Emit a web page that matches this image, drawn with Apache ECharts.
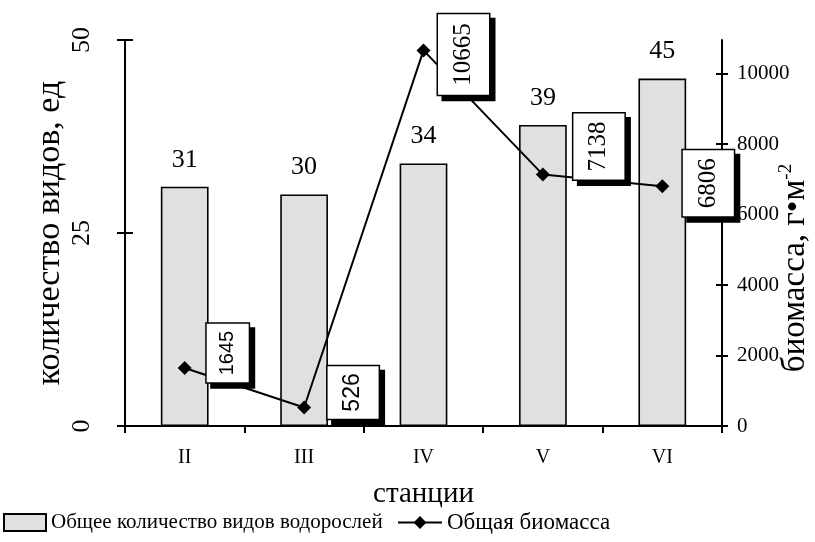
<!DOCTYPE html>
<html>
<head>
<meta charset="utf-8">
<script src="https://cdn.jsdelivr.net/npm/echarts@6/dist/echarts.min.js"></script>
<style>
  html, body { margin: 0; padding: 0; background: #fff; }
  #chart { width: 815px; height: 542px; }
</style>
</head>
<body>
<div id="chart"></div>
<script>
// Stations along the river
const stations = ['II', 'III', 'IV', 'V', 'VI'];
// Total number of algae species per station
const speciesCount = [31, 30, 34, 39, 45];
// Total biomass, g·m⁻²
const biomass = [1645, 526, 10665, 7138, 6806];
// Tick values of both value axes
const speciesTicks = [0, 25, 50];
const biomassTicks = [0, 2000, 4000, 6000, 8000, 10000];

const SERIF = '"Liberation Serif", "Times New Roman", serif';
const SANS = '"Liberation Sans", Arial, sans-serif';

// Callout placement for each biomass label (screen px: right, down), typeface, size and padding
const calloutShift = [[43, -15], [49, -15], [40, 4], [56, -28], [46, -3]];
const calloutFont = [SANS, SANS, SERIF, SERIF, SERIF];
const calloutSize = [20, 23, 25, 25, 25];
const calloutPad = [[11, 7], [14, 7], [13, 9], [13, 8], [13, 8]];

const chart = echarts.init(document.getElementById('chart'), null, { renderer: 'canvas' });

const speciesMax = 50;
const biomassMax = 10960;

function valueAxis(opts) {
  return Object.assign({
    type: 'value',
    splitLine: { show: false },
    axisLine: { show: true, lineStyle: { color: '#000', width: 2 } },
  }, opts);
}

const option = {
  backgroundColor: '#fff',
  animation: false,
  grid: { left: 125, right: 93, top: 40, bottom: 116, containLabel: false, outerBoundsMode: 'none' },
  xAxis: {
    type: 'category',
    data: stations,
    boundaryGap: true,
    axisLine: { lineStyle: { color: '#000', width: 2 } },
    axisTick: { show: true, length: 7, lineStyle: { color: '#000', width: 2 } },
    axisLabel: { color: '#000', fontFamily: SERIF, fontSize: 20, margin: 22 },
    name: 'станции',
    nameLocation: 'middle',
    nameGap: 54,
    nameMoveOverlap: false,
    nameTextStyle: { color: '#000', fontFamily: SERIF, fontSize: 29 },
  },
  yAxis: [
    valueAxis({
      position: 'left',
      min: 0, max: speciesMax, interval: 25,
      axisTick: { show: true, length: 8, lineStyle: { color: '#000', width: 2 } },
      axisLabel: { color: '#000', fontFamily: SERIF, fontSize: 26, rotate: 90, margin: 30,
                   customValues: speciesTicks },
      name: 'количество видов, ед',
      nameLocation: 'middle',
      nameRotate: 90,
      nameGap: 58,
      nameMoveOverlap: false,
      nameTextStyle: { color: '#000', fontFamily: SERIF, fontSize: 34 },
    }),
    valueAxis({
      position: 'right',
      min: 0, max: biomassMax,
      axisTick: { show: true, length: 6, lineStyle: { color: '#000', width: 2 },
                  customValues: biomassTicks },
      axisLabel: { color: '#000', fontFamily: SERIF, fontSize: 21, margin: 15,
                   customValues: biomassTicks, formatter: v => String(v) },
      name: '{t|биомасса, г•м}{s|-2}',
      nameLocation: 'middle',
      nameRotate: 90,
      nameGap: 55,
      nameMoveOverlap: false,
      nameTextStyle: {
        color: '#000',
        padding: [0, 70, 0, 0],
        rich: {
          t: { fontFamily: SERIF, fontSize: 33, color: '#000', lineHeight: 35, verticalAlign: 'bottom' },
          s: { fontFamily: SERIF, fontSize: 19, color: '#000', lineHeight: 35, verticalAlign: 'top' },
        },
      },
    }),
    // inner halves of the crossing tick marks
    valueAxis({
      position: 'left',
      min: 0, max: speciesMax, interval: 25,
      axisLine: { show: false },
      axisTick: { show: true, inside: true, length: 8, lineStyle: { color: '#000', width: 2 } },
      axisLabel: { show: false },
    }),
    valueAxis({
      position: 'right',
      min: 0, max: biomassMax,
      axisLine: { show: false },
      axisTick: { show: true, inside: true, length: 6, lineStyle: { color: '#000', width: 2 },
                  customValues: biomassTicks },
      axisLabel: { show: false },
    }),
  ],
  legend: [
    {
      left: 3,
      top: 512,
      padding: 0,
      itemWidth: 42,
      itemHeight: 17,
      textStyle: { color: '#000', fontFamily: SERIF, fontSize: 21 },
      data: [{ name: 'Общее количество видов водорослей', icon: 'rect' }],
    },
    {
      left: 397,
      top: 511,
      padding: 0,
      itemWidth: 44,
      itemHeight: 16,
      textStyle: { color: '#000', fontFamily: SERIF, fontSize: 23 },
      data: [{ name: 'Общая биомасса' }],
    },
  ],
  series: [
    {
      name: 'Общее количество видов водорослей',
      type: 'bar',
      yAxisIndex: 0,
      data: speciesCount,
      barWidth: '40%',
      itemStyle: { color: '#e0e0e0', borderColor: '#000', borderWidth: 1.6 },
      label: {
        show: true,
        position: 'top',
        distance: 14,
        color: '#000',
        fontFamily: SERIF,
        fontSize: 26,
      },
      z: 2,
    },
    {
      name: 'Общая биомасса',
      type: 'line',
      yAxisIndex: 1,
      data: biomass.map((v, i) => ({
        value: v,
        label: {
          // offset is expressed in the rotated label frame
          offset: [-calloutShift[i][1], calloutShift[i][0]],
          fontFamily: calloutFont[i],
          fontSize: calloutSize[i],
          padding: calloutPad[i],
        },
      })),
      symbol: 'diamond',
      symbolSize: 14,
      lineStyle: { color: '#000', width: 2 },
      itemStyle: { color: '#000' },
      label: {
        show: true,
        position: 'inside',
        rotate: 90,
        color: '#000',
        backgroundColor: '#fff',
        borderColor: '#000',
        borderWidth: 1.5,
        shadowColor: '#000',
        shadowOffsetX: 5,
        shadowOffsetY: 5,
        shadowBlur: 0,
      },
      z: 5,
    },
  ],
};

chart.setOption(option);
</script>
</body>
</html>
